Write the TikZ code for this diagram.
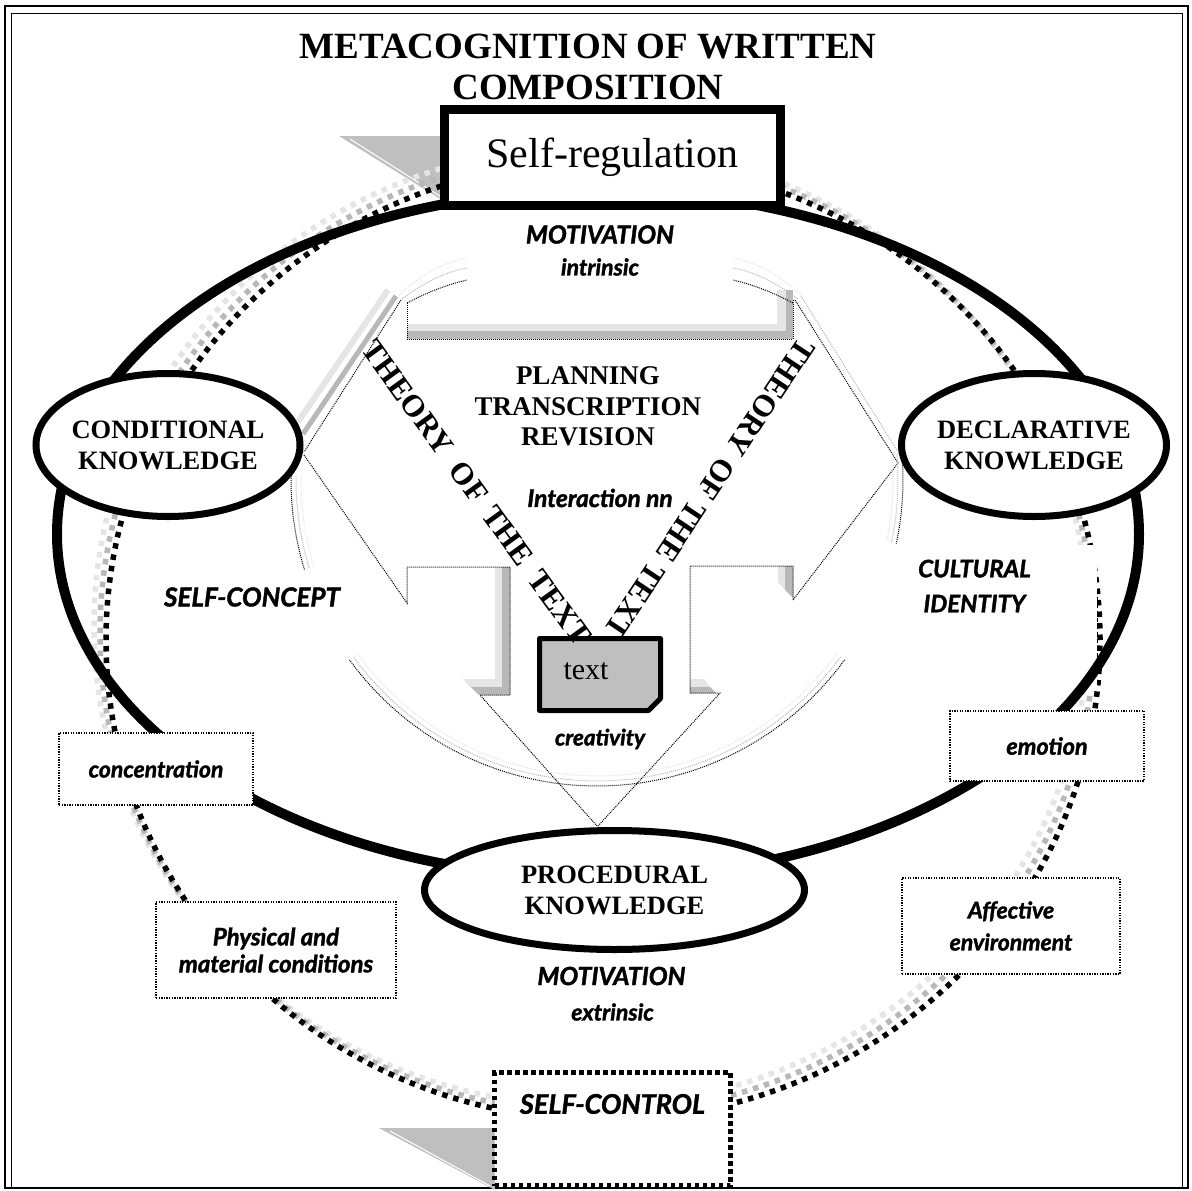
\documentclass[tikz,border=0pt]{standalone}
\usepackage{fontspec}
\setmainfont{Liberation Serif}
\newfontfamily\handfont{Lato}[BoldItalicFeatures={FakeBold=1.6}]
\usetikzlibrary{shapes.geometric}
\definecolor{shadelight}{gray}{0.90}
\definecolor{shademid}{gray}{0.72}
\definecolor{headgrey}{gray}{0.75}
\begin{document}
\begin{tikzpicture}[x=1pt, y=-1pt,
  knowl/.style={draw, ellipse, line width=7pt, fill=white, inner xsep=-8pt, inner ysep=0pt, align=center, font=\fontsize{26.5}{31}\selectfont\bfseries},
  dotbox/.style={draw, line width=1.3pt, dash pattern=on 1.3pt off 1.3pt, fill=white},
  hand/.style 2 args={font=\fontsize{#1}{#2}\selectfont\handfont\bfseries\itshape, inner sep=0pt, align=center},
  cyc/.style={line width=5.5pt, dash pattern=on 5.5pt off 6pt},
  innerdot/.style={line width=1pt, dash pattern=on 1pt off 1pt},
  theory/.style={font=\fontsize{31}{31}\selectfont\bfseries, inner sep=0pt}]
\useasboundingbox (0,0) rectangle (1192,1191);
\draw[line width=2pt] (5,6) rectangle (1188,1188);
\draw[line width=1pt] (11,1188) -- (11,13) -- (1182,13) -- (1182,1188);
\node[font=\fontsize{37}{41}\selectfont\bfseries, align=center, inner sep=0pt] (title) at (588,67) {METACOGNITION OF WRITTEN\\COMPOSITION};
\fill[headgrey] (339,136) -- (450,136) -- (450,205) -- cycle;
\draw[white, line width=1pt] (350,139) -- (446,200);
\fill[headgrey] (379,1128) -- (495,1128) -- (495,1190) -- cycle;
\draw[white, line width=1pt] (390,1131) -- (490,1186);
\fill[shadelight] (407,324) rectangle (793,331);
\fill[shademid] (407,331) rectangle (793,339);
\fill[shadelight] (777,290) rectangle (786,331);
\fill[shademid] (786,290) rectangle (793,339);
\fill[shadelight] (495,567) rectangle (502,688);
\fill[shademid] (502,567) rectangle (510,695);
\fill[shadelight] (463,679) -- (495,679) -- (495,687) -- (470,687) -- cycle;
\fill[shademid] (471,687) -- (502,687) -- (502,695) -- (479,695) -- cycle;
\fill[shadelight] (778,566) -- (785,566) -- (785,590) -- (778,582) -- cycle;
\fill[shademid] (785,566) -- (793,566) -- (793,598) -- (785,590) -- cycle;
\fill[shadelight] (690,679) -- (704,679) -- (710,687) -- (690,687) -- cycle;
\fill[shademid] (690,687) -- (710,687) -- (716,693) -- (690,693) -- cycle;
\draw[shadelight, line width=6pt] (388,290) -- (298,422);
\draw[shademid, line width=5pt] (396,296) -- (303,434);
\draw[innerdot] (401,300) -- (304,452);
\draw[innerdot] (407,303) -- (407,339) -- (793,339) -- (793,300);
\draw[innerdot] (407,303) .. controls (428,292) and (446,285) .. (467,280);
\draw[innerdot, shademid] (402,299) .. controls (425,282) and (445,272) .. (467,268);
\draw[innerdot, shadelight] (399,295) .. controls (422,274) and (444,262) .. (467,258);
\draw[innerdot] (793,303) .. controls (772,292) and (754,285) .. (733,280);
\draw[innerdot, shademid] (798,299) .. controls (775,282) and (755,272) .. (733,268);
\draw[innerdot, shadelight] (801,295) .. controls (778,274) and (756,262) .. (733,258);
\draw[innerdot] (795,300) -- (898,463) -- (793,600);
\draw[innerdot, shademid] (801,296) -- (903,460);
\draw[innerdot] (304,455) -- (407,603) -- (407,567) -- (510,567) -- (510,695) -- (480,695) -- (597,826);
\draw[innerdot] (598,826) -- (720,693) -- (690,693) -- (690,566) -- (793,566) -- (793,600);
\foreach \rad/\c in {296/shadelight, 301/shademid, 306/black} {
  \draw[innerdot, \c] plot[domain=36:144, samples=60] ({597+\rad*cos(\x)}, {480+\rad*sin(\x)});
  \draw[innerdot, \c] plot[domain=163:181, samples=12] ({597+\rad*cos(\x)}, {480+\rad*sin(\x)});
  \draw[innerdot, \c] plot[domain=-5:12, samples=12] ({597+\rad*cos(\x)}, {480+\rad*sin(\x)});
}
\foreach \d/\c in {12/shadelight, 6/shademid, 0/black}
  \draw[cyc, \c] (603-\d, 640-\d*1.15) ellipse [x radius=497pt, y radius=480pt];
\node[fill=white, minimum width=192pt, minimum height=145pt, inner sep=0pt] (culturebox) at (1001,617.5) {};
\draw[line width=0.8pt, dash pattern=on 4pt off 3pt] ([yshift=-52pt]culturebox.north east) -- ([yshift=-112pt]culturebox.north east);
\draw[line width=10pt] (598,534) ellipse [x radius=541pt, y radius=344pt];
\node[draw, line width=9pt, fill=white, minimum width=336pt, minimum height=96pt, inner sep=0pt, font=\fontsize{42}{48}\selectfont] (selfreg) at (612.5,157.5) {Self-regulation};
\node[knowl, minimum width=264pt, minimum height=143pt] (condk) at (168,445) {CONDITIONAL\\KNOWLEDGE};
\node[knowl, minimum width=265pt, minimum height=143pt] (declk) at (1034,445) {DECLARATIVE\\KNOWLEDGE};
\node[knowl, minimum width=380pt, minimum height=119pt] (prock) at (614.5,890) {PROCEDURAL\\KNOWLEDGE};
\node[dotbox, hand={23}{30}, minimum width=194pt, minimum height=72pt] (concbox) at (156,769) {concentration};
\node[dotbox, hand={23.5}{30}, minimum width=194pt, minimum height=70pt] (emobox) at (1047,746) {emotion};
\node[dotbox, hand={24}{27}, minimum width=240pt, minimum height=96pt] (physbox) at (276,950) {Physical and\\material conditions};
\node[dotbox, hand={23}{32}, minimum width=218pt, minimum height=96pt] (affbox) at (1011,926) {Affective\\environment};
\node[draw, line width=5pt, dash pattern=on 4.5pt off 3.5pt, fill=white, minimum width=236pt, minimum height=113pt] (selfctl) at (612.5,1129) {};
\node[hand={27}{30}] (selfctltext) at (612.5,1104) {SELF-CONTROL};
\node[hand={25}{30}] (motin) at (600,234.5) {MOTIVATION};
\node[hand={23}{30}] (intrin) at (600,267) {intrinsic};
\node[hand={25}{30}] (motex) at (611.5,976) {MOTIVATION};
\node[hand={23}{30}] (extrin) at (612.5,1012) {extrinsic};
\node[hand={26}{30}] (selfcon) at (252,597) {SELF-CONCEPT};
\node[hand={24}{35}] (cultural) at (974.5,586) {CULTURAL\\IDENTITY};
\node[hand={24.5}{30}] (interact) at (600,498) {Interaction nn};
\node[hand={22.5}{30}] (creat) at (600,739) {creativity};
\node[font=\fontsize{27}{30.5}\selectfont\bfseries, align=center, inner sep=0pt] (phases) at (588,406.5) {PLANNING\\TRANSCRIPTION\\REVISION};
\coordinate (docnw) at (539.5,638.5);
\coordinate (docse) at (660.5,710.5);
\filldraw[fill=headgrey, line width=5pt, line join=round] (docnw) -- (docse |- docnw) -- ([yshift=12pt]docse) -- ([xshift=-12pt]docse) -- (docnw |- docse) -- cycle;
\fill ([yshift=12pt]docse) -- ([xshift=-12pt]docse) -- ([xshift=-4pt, yshift=8pt]docse) -- cycle;
\node[font=\fontsize{30}{30}\selectfont, inner sep=0pt] (doctext) at (586,671) {text};
\coordinate (tl1) at (366,340);
\coordinate (tl2) at (586,644);
\coordinate (tr1) at (808,341);
\coordinate (tr2) at (611,637);
\foreach \w/\p [count=\i] in {THEORY/0.19, OF/0.467, THE/0.644, TEXT/0.88} {
  \path (tl1) -- (tl2) node[theory, sloped, pos=\p] (theoryl\i) {\w};
  \path (tr1) -- (tr2) node[theory, sloped, allow upside down, pos=\p] (theoryr\i) {\w};
}
\end{tikzpicture}
\end{document}
